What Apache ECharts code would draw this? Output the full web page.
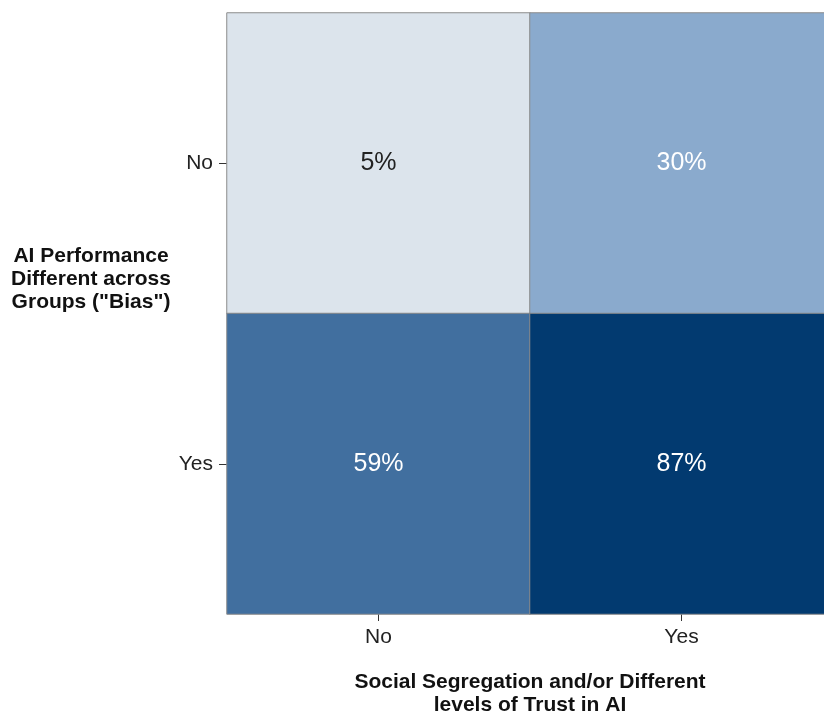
<!DOCTYPE html>
<html>
<head>
<meta charset="utf-8">
<script src="https://cdn.jsdelivr.net/npm/echarts@6/dist/echarts.min.js"></script>
<style>
    html, body { margin: 0; padding: 0; background: #fff; }
    #chart { width: 824px; height: 713px; }
</style>
</head>
<body>
<div id="chart"></div>
<script>
    // categories
    const trustCats = ['No', 'Yes'];   // x: social segregation / trust
    const biasCats = ['No', 'Yes'];    // y: AI performance bias
    // share (%) per [bias][trust]
    const shareNoBias = [5, 30];
    const shareBias = [59, 87];

    const rows = [shareNoBias, shareBias];
    const data = [];
    rows.forEach((row, yi) => {
        row.forEach((v, xi) => {
            data.push({
                value: [xi, yi, v],
                label: { color: v > 20 ? '#ffffff' : '#222222' }
            });
        });
    });

    const font = '"Liberation Sans", Arial, Helvetica, sans-serif';

    const chart = echarts.init(document.getElementById('chart'));
    chart.setOption({
        animation: false,
        grid: { left: 227, top: 13, width: 606, height: 601, outerBoundsMode: 'none', containLabel: false },
        xAxis: {
            type: 'category',
            data: trustCats,
            name: 'Social Segregation and/or Different\nlevels of Trust in AI',
            nameLocation: 'middle',
            nameGap: 57,
            nameTextStyle: { fontFamily: font, fontSize: 21, fontWeight: 'bold', color: '#111', lineHeight: 23 },
            axisLine: { show: false },
            axisTick: { show: true, alignWithLabel: true, length: 7, lineStyle: { color: '#333' } },
            axisLabel: { fontFamily: font, fontSize: 21, color: '#222', margin: 13 },
            splitLine: { show: false }
        },
        yAxis: {
            type: 'category',
            data: biasCats,
            inverse: true,
            name: 'AI Performance\nDifferent across\nGroups ("Bias")',
            nameLocation: 'middle',
            nameRotate: 0,
            nameGap: 136,
            nameTextStyle: {
                fontFamily: font, fontSize: 21, fontWeight: 'bold', color: '#111',
                lineHeight: 23, align: 'center', verticalAlign: 'bottom'
            },
            axisLine: { show: false },
            axisTick: { show: true, alignWithLabel: true, length: 8, lineStyle: { color: '#333' } },
            axisLabel: { fontFamily: font, fontSize: 21, color: '#222', margin: 14 },
            splitLine: { show: false }
        },
        visualMap: {
            show: false,
            type: 'piecewise',
            dimension: 2,
            pieces: [
                { lt: 20, color: '#dce4ec' },
                { gte: 20, lt: 45, color: '#8aaacd' },
                { gte: 45, lt: 75, color: '#416f9f' },
                { gte: 75, color: '#023a70' }
            ]
        },
        series: [{
            type: 'heatmap',
            data: data,
            itemStyle: { borderColor: '#8c8c8c', borderWidth: 1 },
            label: {
                show: true,
                fontFamily: font,
                fontSize: 25,
                formatter: p => p.value[2] + '%'
            }
        }]
    });
</script>
</body>
</html>
